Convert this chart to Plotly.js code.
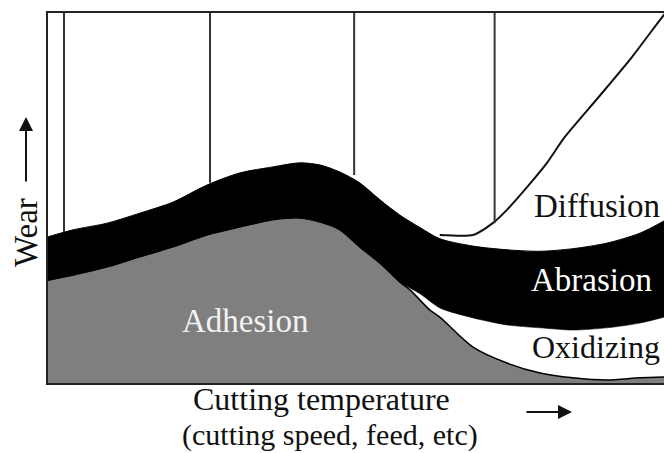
<!DOCTYPE html>
<html><head><meta charset="utf-8">
<script src="https://cdn.plot.ly/plotly-3.0.1.min.js"></script>
<style>html,body{margin:0;padding:0;background:#fff}#chart{width:664px;height:453px}</style>
</head><body><div id="chart"></div>
<script>
// Cutting temperature (relative scale 0-100)
const bandX = [0, 4.1, 9.6, 14.9, 20.3, 25.8, 31.2, 36.5, 40.9, 44.2, 47.4, 50.6, 53.9, 57.1, 60.4, 63.6, 69.0, 74.5, 79.9, 85.2, 90.7, 96.1, 100];
// Abrasion band (wear, relative 0-100)
const abrasionTop = [39.5, 41.4, 43.2, 45.9, 48.9, 53.5, 56.8, 58.4, 59.5, 58.9, 57.0, 54.1, 49.5, 45.4, 42.0, 39.0, 37.0, 36.0, 35.6, 36.3, 37.8, 40.5, 43.8];
const abrasionBottom = [27.8, 29.2, 31.4, 34.1, 36.8, 40.0, 42.2, 44.1, 44.6, 43.5, 41.4, 36.8, 32.4, 27.3, 24.1, 20.3, 17.6, 15.7, 14.9, 14.3, 14.9, 16.2, 17.8];
// Adhesion region
const adhesionX = [0, 4.1, 9.6, 14.9, 20.3, 25.8, 31.2, 36.5, 40.9, 44.2, 47.4, 50.6, 53.9, 57.1, 58.8, 62.0, 63.6, 69.0, 74.5, 79.9, 85.2, 90.7, 96.1, 100];
const adhesionTop = [27.8, 29.2, 31.4, 34.1, 36.8, 40.0, 42.2, 44.1, 44.6, 43.5, 41.4, 36.8, 32.4, 27.3, 25.1, 19.7, 17.8, 9.7, 5.4, 2.7, 1.4, 0.8, 1.4, 1.6];
// Diffusion curve
const diffusionX = [63.6, 69.0, 72.2, 74.5, 77.8, 81.0, 83.9, 89.4, 94.8, 99.7, 100.5];
const diffusionY = [40.0, 40.0, 43.2, 46.8, 53.0, 59.5, 66.5, 77.3, 88.1, 98.9, 100.5];
// Vertical guide lines: x position and the wear level where they stop
const guideX = [2.6, 26.3, 49.7, 72.5];
const guideFrom = [40.8, 54.1, 56.2, 43.2];
const guideTo = 100;
// Labels
const regionLabels = ['Adhesion', 'Abrasion', 'Diffusion', 'Oxidizing'];
const axisLabelX1 = 'Cutting temperature';
const axisLabelX2 = '(cutting speed, feed, etc)';
const axisLabelY = 'Wear';

const FONT = 'Liberation Serif, Times New Roman, serif';
const traces = [];
traces.push({x: adhesionX, y: adhesionTop, mode: 'lines', fill: 'tozeroy', fillcolor: '#7f7f7f',
  line: {color: '#000', width: 1.5, shape: 'spline', smoothing: 0.8}, hoverinfo: 'skip'});
traces.push({x: bandX, y: abrasionBottom, mode: 'lines',
  line: {color: '#000', width: 0.5, shape: 'spline', smoothing: 0.8}, hoverinfo: 'skip'});
traces.push({x: bandX, y: abrasionTop, mode: 'lines', fill: 'tonexty', fillcolor: '#000',
  line: {color: '#000', width: 1, shape: 'spline', smoothing: 0.8}, hoverinfo: 'skip'});
traces.push({x: diffusionX, y: diffusionY, mode: 'lines',
  line: {color: '#111', width: 2, shape: 'spline', smoothing: 0.6}, hoverinfo: 'skip'});
guideX.forEach((gx, i) => {
  traces.push({x: [gx, gx], y: [guideFrom[i], guideTo], mode: 'lines',
    line: {color: '#333', width: 2}, hoverinfo: 'skip'});
});

const W = 616, H = 370, L = 48, T = 13;
const px = v => (v - L) / W;
const py = v => (T + H - v) / H;
const lbl = (text, x, y, color, size, extra) => Object.assign({xref: 'paper', yref: 'paper', x: px(x), y: py(y),
  text: text, showarrow: false, xanchor: 'left', yanchor: 'middle',
  font: {family: FONT, size: size, color: color}}, extra || {});

const annotations = [
  lbl(regionLabels[0], 180, 321, '#f2f2f2', 33),
  lbl(regionLabels[1], 529, 280, '#ffffff', 33),
  lbl(regionLabels[2], 532, 206, '#111', 33),
  lbl(regionLabels[3], 530, 347, '#111', 32),
  lbl(axisLabelX1, 321, 399, '#111', 32, {xanchor: 'center'}),
  lbl(axisLabelX2, 330, 435, '#111', 30, {xanchor: 'center'}),
  lbl(axisLabelY, 26, 233, '#111', 33, {xanchor: 'center', textangle: -90}),
  {xref: 'paper', yref: 'paper', x: px(26), y: py(117), ax: 0, ay: 66, text: '', showarrow: true,
    arrowhead: 2, arrowsize: 1.4, arrowwidth: 2, arrowcolor: '#111'},
  {xref: 'paper', yref: 'paper', x: px(572), y: py(412), ax: -47, ay: 0, text: '', showarrow: true,
    arrowhead: 2, arrowsize: 1.4, arrowwidth: 2, arrowcolor: '#111'}
];

const layout = {
  width: 664, height: 453,
  margin: {l: L, r: 0, t: T, b: 453 - T - H, pad: 0},
  paper_bgcolor: '#fff', plot_bgcolor: '#fff',
  showlegend: false, hovermode: false,
  xaxis: {range: [0, 100], showgrid: false, zeroline: false, showticklabels: false, ticks: '',
    showline: true, linecolor: '#222', linewidth: 2, mirror: true, fixedrange: true},
  yaxis: {range: [0, 100], showgrid: false, zeroline: false, showticklabels: false, ticks: '',
    showline: true, linecolor: '#222', linewidth: 2, fixedrange: true},
  annotations: annotations
};
Plotly.newPlot('chart', traces, layout, {displayModeBar: false, staticPlot: true});
</script>
</body></html>
